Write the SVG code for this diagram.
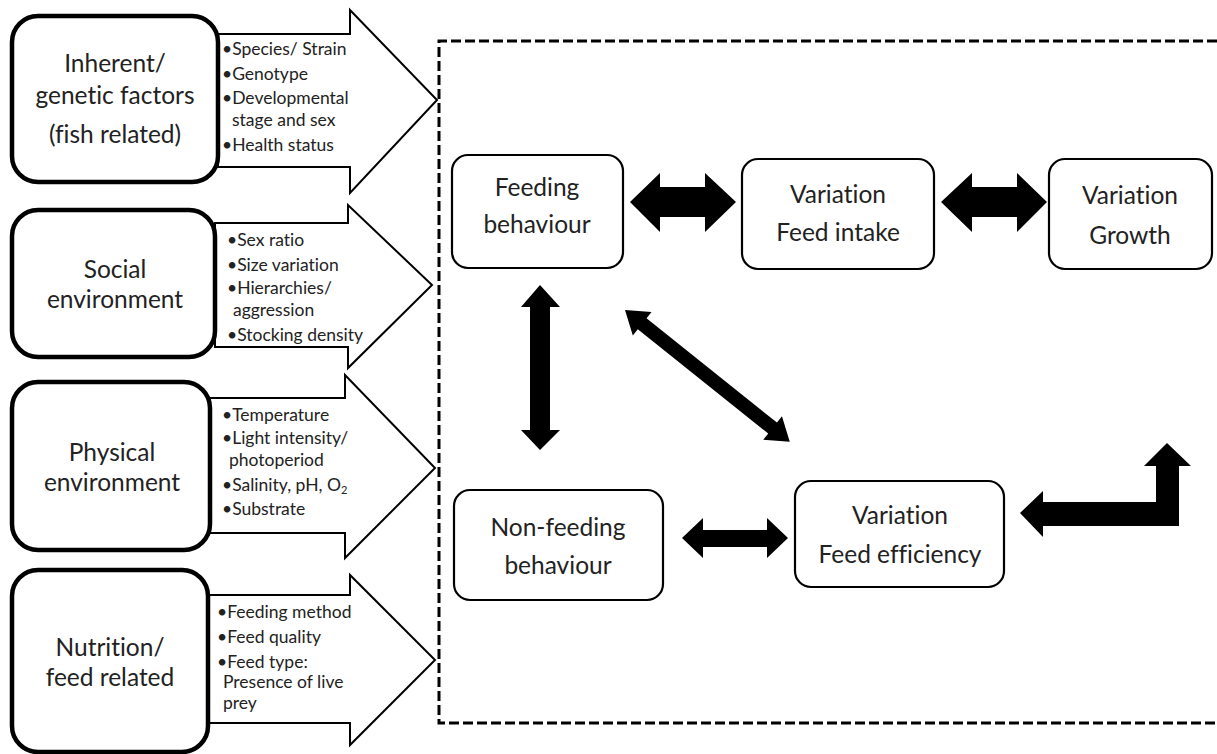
<svg xmlns="http://www.w3.org/2000/svg" width="1217" height="754" viewBox="0 0 1217 754">
<style>
.big{fill:#fff;stroke:#000;stroke-width:2;stroke-linejoin:miter}
.src{fill:#fff;stroke:#000;stroke-width:4.5}
.node{fill:#fff;stroke:#000;stroke-width:2.2}
.blk{fill:#000;stroke:none}
text{font-family:Lato,"Open Sans",sans-serif;fill:#222;font-variant-ligatures:none}
.t1{font-size:24.5px;text-anchor:middle}
.t2{font-size:24.5px;text-anchor:middle}
.b{font-size:17.5px}
</style>
<rect width="1217" height="754" fill="#fff"/>
<path d="M1217,41 H439 V723 H1217" fill="none" stroke="#000" stroke-width="3" stroke-dasharray="10,4"/>
<g id="connectors">
<polygon class="big" points="218,34 350,34 350,10 437,100 350,193 350,167 218,167"/>
<polygon class="big" points="215,223 348,223 348,205 432,285 348,368 348,347 215,347"/>
<polygon class="big" points="210,398 345,398 345,375 435,468 345,558 345,533 210,533"/>
<polygon class="big" points="208,595 350,595 350,575 435,660 350,745 350,723 208,723"/>
<path class="blk" d="M630,202 L660,173 L660,187 L705,187 L705,173 L736,202 L705,232 L705,217 L660,217 L660,232 Z"/>
<path class="blk" d="M941,202 L972,173 L972,187 L1017,187 L1017,173 L1047,202 L1017,232 L1017,217 L972,217 L972,232 Z"/>
<path class="blk" d="M540,285 L560,307 L550,307 L550,430 L560,430 L540,450 L521,430 L530,430 L530,307 L521,307 Z"/>
<path class="blk" transform="translate(625,310) rotate(38.66)" d="M0,0 L22,-15 L22,-7 L189,-7 L189,-15 L211,0 L189,15 L189,7 L22,7 L22,15 Z"/>
<path class="blk" d="M682,538 L703,518 L703,530 L767,530 L767,518 L788,538 L767,558 L767,547 L703,547 L703,558 Z"/>
<path class="blk" d="M1020,513 L1043,491 L1043,502 L1156,502 L1156,466 L1144,466 L1167,443 L1191,466 L1179,466 L1179,526 L1043,526 L1043,537 Z"/>
</g>
<g id="inherent">
<rect class="src" x="12" y="16" width="206" height="166" rx="26"/>
<text class="t1" x="115" y="72">Inherent/</text>
<text class="t1" x="115" y="104">genetic factors</text>
<text class="t1" x="115" y="143">(fish related)</text>
<text class="b" x="222" y="55">•Species/ Strain</text>
<text class="b" x="222" y="80">•Genotype</text>
<text class="b" x="222" y="104">•Developmental</text>
<text class="b" x="232" y="126">stage and sex</text>
<text class="b" x="222" y="151">•Health status</text>
</g>
<g id="social">
<rect class="src" x="12" y="210" width="203" height="147" rx="26"/>
<text class="t1" x="115" y="278">Social</text>
<text class="t1" x="115" y="308">environment</text>
<text class="b" x="227" y="246">•Sex ratio</text>
<text class="b" x="227" y="271">•Size variation</text>
<text class="b" x="227" y="294">•Hierarchies/</text>
<text class="b" x="233" y="316">aggression</text>
<text class="b" x="227" y="341">•Stocking density</text>
</g>
<g id="physical">
<rect class="src" x="12" y="382" width="198" height="168" rx="26"/>
<text class="t1" x="112" y="461">Physical</text>
<text class="t1" x="112" y="491">environment</text>
<text class="b" x="222" y="421">•Temperature</text>
<text class="b" x="222" y="444">•Light intensity/</text>
<text class="b" x="229" y="466">photoperiod</text>
<text class="b" x="222" y="491">•Salinity, pH,  O<tspan font-size="11" dy="3">2</tspan></text>
<text class="b" x="222" y="515">•Substrate</text>
</g>
<g id="nutrition">
<rect class="src" x="12" y="570" width="196" height="182" rx="26"/>
<text class="t1" x="110" y="656">Nutrition/</text>
<text class="t1" x="110" y="686">feed related</text>
<text class="b" x="217" y="618">•Feeding method</text>
<text class="b" x="217" y="643">•Feed quality</text>
<text class="b" x="217" y="668">•Feed type:</text>
<text class="b" x="223" y="688">Presence of live</text>
<text class="b" x="223" y="709">prey</text>
</g>
<g id="feeding">
<rect class="node" x="452" y="155" width="171" height="113" rx="16"/>
<text class="t2" x="537" y="196">Feeding</text>
<text class="t2" x="537" y="233">behaviour</text>
</g>
<g id="intake">
<rect class="node" x="742" y="159" width="192" height="110" rx="16"/>
<text class="t2" x="838" y="203">Variation</text>
<text class="t2" x="838" y="241">Feed intake</text>
</g>
<g id="growth">
<rect class="node" x="1049" y="159" width="163" height="110" rx="16"/>
<text class="t2" x="1130" y="204">Variation</text>
<text class="t2" x="1130" y="244">Growth</text>
</g>
<g id="nonfeeding">
<rect class="node" x="454" y="490" width="209" height="110" rx="16"/>
<text class="t2" x="558" y="536">Non-feeding</text>
<text class="t2" x="558" y="574">behaviour</text>
</g>
<g id="efficiency">
<rect class="node" x="795" y="481" width="209" height="106" rx="16"/>
<text class="t2" x="900" y="524">Variation</text>
<text class="t2" x="900" y="563">Feed efficiency</text>
</g>
</svg>
